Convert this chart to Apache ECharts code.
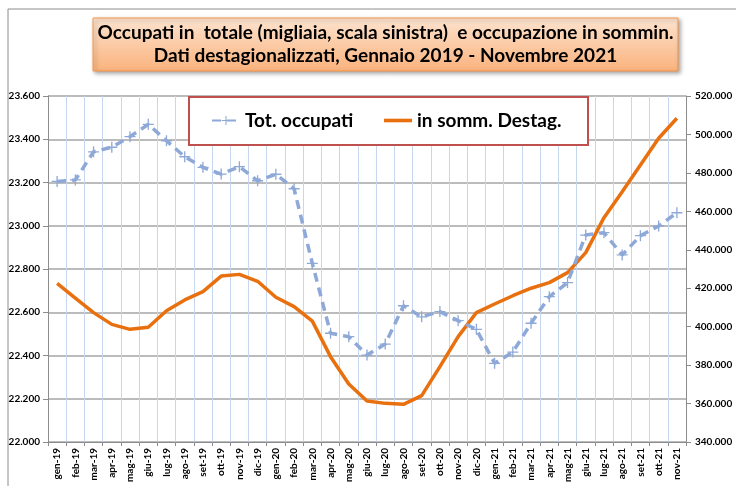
<!DOCTYPE html>
<html>
<head>
<meta charset="utf-8">
<script src="https://cdn.jsdelivr.net/npm/echarts@6/dist/echarts.min.js"></script>
<style>
html,body{margin:0;padding:0;background:#fff;}
#main{width:736px;height:486px;}
</style>
</head>
<body>
<div id="main"></div>
<script>
const categories = ['gen-19','feb-19','mar-19','apr-19','mag-19','giu-19','lug-19','ago-19','set-19','ott-19','nov-19','dic-19',
  'gen-20','feb-20','mar-20','apr-20','mag-20','giu-20','lug-20','ago-20','set-20','ott-20','nov-20','dic-20',
  'gen-21','feb-21','mar-21','apr-21','mag-21','giu-21','lug-21','ago-21','set-21','ott-21','nov-21'];
const totOccupati = [23205,23212,23342,23363,23412,23469,23393,23319,23270,23239,23273,23208,
  23238,23171,22826,22503,22487,22402,22453,22630,22579,22603,22561,22521,
  22364,22416,22549,22672,22737,22957,22968,22865,22954,22999,23060];
const sommDestag = [422500,414900,407300,401200,398600,399700,408300,413900,418200,426300,427200,423600,
  415300,410400,402900,384400,370200,361300,360100,359600,364100,379200,394800,407300,
  411800,416100,420000,422900,428100,438500,456700,470200,484100,498000,508400];
const leftTicks = {min:22000, max:23600, interval:200};
const rightTicks = {min:340000, max:520000, interval:20000};
const titleLines = ['Occupati in  totale (migliaia, scala sinistra)  e occupazione in sommin.','Dati destagionalizzati, Gennaio 2019 - Novembre 2021'];
const seriesNames = ['Tot. occupati','in somm. Destag.'];

function fmtK(v){ return (v/1000).toFixed(3); }

const FONT = 'Lato, "Open Sans", sans-serif';
const chart = echarts.init(document.getElementById('main'), null, {renderer:'canvas'});
const plus = 'path://M-1.2,-10 L1.2,-10 L1.2,-1.2 L10,-1.2 L10,1.2 L1.2,1.2 L1.2,10 L-1.2,10 L-1.2,1.2 L-10,1.2 L-10,-1.2 L-1.2,-1.2 Z';
const legendText = {fontFamily:FONT, fontSize:19, fontWeight:'bold', color:'#000'};

chart.setOption({
  animation:false,
  backgroundColor:'#ffffff',
  textStyle:{fontFamily:FONT},
  graphic:[
    {type:'rect', z:-10, shape:{x:8,y:9,width:800,height:600}, style:{fill:'none', stroke:'#8c8c8c', lineWidth:1}},
    {type:'rect', z:10, shape:{x:93,y:18,width:585,height:53},
      style:{fill:new echarts.graphic.LinearGradient(0,0,0,1,[{offset:0,color:'#fde4d0'},{offset:1,color:'#fab27c'}]),
        stroke:'#f79646', lineWidth:1, shadowBlur:4, shadowOffsetX:2, shadowOffsetY:2, shadowColor:'rgba(0,0,0,0.35)'}},
    {type:'text', z:11, x:385.5, y:33, style:{text:titleLines[0], font:'bold 19px '+FONT, fill:'#000', align:'center', verticalAlign:'middle'}},
    {type:'text', z:11, x:385.5, y:56, style:{text:titleLines[1], font:'bold 19px '+FONT, fill:'#000', align:'center', verticalAlign:'middle'}},
    {type:'rect', z:10, shape:{x:189,y:97,width:399,height:48}, style:{fill:'#ffffff', stroke:'#c0504d', lineWidth:2}}
  ],
  legend:[
    {left:211, top:111, padding:0, itemGap:0, z:12, itemWidth:28, itemHeight:11, textStyle:legendText,
      data:[seriesNames[0]]},
    {left:384, top:111, padding:0, itemGap:0, z:12, itemWidth:28, itemHeight:20, textStyle:legendText,
      data:[{name:seriesNames[1], icon:'path://M0,8.2 L28,8.2 L28,11.8 L0,11.8 Z'}]}
  ],
  grid:{left:48, right:50, top:96, bottom:44, containLabel:false},
  xAxis:{
    type:'category', data:categories, boundaryGap:true,
    axisLine:{lineStyle:{color:'#8c8c8c', width:1}},
    axisTick:{show:true, length:4, lineStyle:{color:'#8c8c8c'}},
    axisLabel:{rotate:90, fontSize:10, fontWeight:'bold', color:'#000', fontFamily:FONT, margin:6, interval:0},
    splitLine:{show:true, lineStyle:{color:'#c6d6ef', width:1}}
  },
  yAxis:[
    {type:'value', min:leftTicks.min, max:leftTicks.max, interval:leftTicks.interval, position:'left',
      axisLine:{show:true, lineStyle:{color:'#8c8c8c'}},
      axisTick:{show:true, length:5, lineStyle:{color:'#8c8c8c'}},
      axisLabel:{formatter:fmtK, fontSize:10, fontWeight:'bold', color:'#000', fontFamily:FONT, margin:8},
      splitLine:{show:true, lineStyle:{color:'#a6a6a6', width:1.5}}},
    {type:'value', min:rightTicks.min, max:rightTicks.max, interval:rightTicks.interval, position:'right',
      axisLine:{show:true, lineStyle:{color:'#8c8c8c'}},
      axisTick:{show:true, length:5, lineStyle:{color:'#8c8c8c'}},
      axisLabel:{formatter:fmtK, fontSize:10, fontWeight:'bold', color:'#000', fontFamily:FONT, margin:9},
      splitLine:{show:false}}
  ],
  series:[
    {name:seriesNames[0], type:'line', yAxisIndex:0, data:totOccupati, z:3,
      symbol:plus, symbolSize:11, showAllSymbol:true,
      itemStyle:{color:'#8ea9d8'},
      lineStyle:{color:'#8ea9d8', width:3.5, type:[9,6]}},
    {name:seriesNames[1], type:'line', yAxisIndex:1, data:sommDestag, z:2,
      symbol:'none', itemStyle:{color:'#e8700e'},
      lineStyle:{color:'#e8700e', width:3.5}}
  ]
});
</script>
</body>
</html>
